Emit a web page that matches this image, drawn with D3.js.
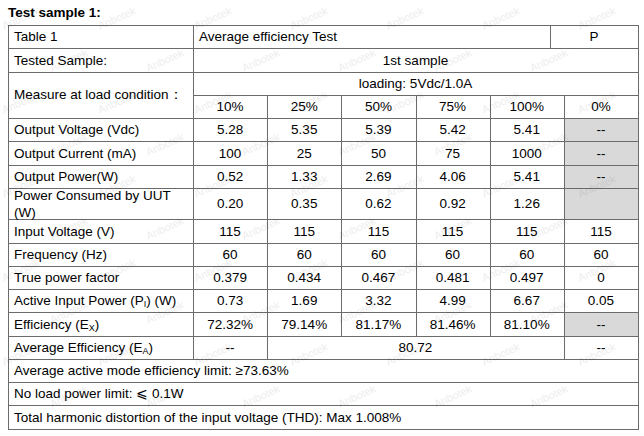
<!DOCTYPE html>
<html>
<head>
<meta charset="utf-8">
<script src="https://d3js.org/d3.v7.min.js"></script>
<style>
  body { margin: 0; background: #fff; }
  text { font-family: Arial, "Liberation Sans", sans-serif; font-size: 13.5px; fill: #000; }
</style>
</head>
<body>
<svg id="viz"></svg>
<script>
var width = 644, height = 436;

// table data
var loads = ["10%", "25%", "50%", "75%", "100%", "0%"];
var outputVoltage = ["5.28", "5.35", "5.39", "5.42", "5.41", "--"];
var outputCurrent = ["100", "25", "50", "75", "1000", "--"];
var outputPower = ["0.52", "1.33", "2.69", "4.06", "5.41", "--"];
var powerConsumed = ["0.20", "0.35", "0.62", "0.92", "1.26", ""];
var inputVoltage = ["115", "115", "115", "115", "115", "115"];
var frequency = ["60", "60", "60", "60", "60", "60"];
var powerFactor = ["0.379", "0.434", "0.467", "0.481", "0.497", "0"];
var activeInput = ["0.73", "1.69", "3.32", "4.99", "6.67", "0.05"];
var efficiency = ["72.32%", "79.14%", "81.17%", "81.46%", "81.10%", "--"];
var averageEfficiency = "80.72";
var footnotes = [
  "Average active mode efficiency limit: \u226573.63%",
  "No load power limit: \u2A7D 0.1W",
  "Total harmonic distortion of the input voltage (THD): Max 1.008%"
];

var dataRows = [
  {label: ["Output Voltage (Vdc)"], values: outputVoltage, shade: true},
  {label: ["Output Current (mA)"], values: outputCurrent, shade: true},
  {label: ["Output Power(W)"], values: outputPower, shade: true},
  {label: ["Power Consumed by UUT", "(W)"], values: powerConsumed, shade: true, tall: true},
  {label: ["Input Voltage (V)"], values: inputVoltage},
  {label: ["Frequency (Hz)"], values: frequency},
  {label: ["True power factor"], values: powerFactor},
  {label: ["Active Input Power (P", "I", ") (W)"], values: activeInput, sub: true},
  {label: ["Efficiency (E", "X", ")"], values: efficiency, shade: true, sub: true}
];

var tblLeft = 8, tblRight = 638, labelW = 185, tblTop = 25;
var rowH = 23.25, tallH = 31.5;
var lineColor = "#6b6b6b", shadeColor = "#d9d9d9";

var svg = d3.select("#viz").attr("width", width).attr("height", height);

var x = d3.scaleBand().domain(loads).range([tblLeft + labelW, tblRight]);

// row tops
var heights = [rowH, rowH, rowH, rowH];
dataRows.forEach(function(r) { heights.push(r.tall ? tallH : rowH); });
heights.push(rowH, rowH, rowH, rowH);
var ys = [tblTop];
heights.forEach(function(h, i) { ys.push(ys[i] + h); });

var g = svg.append("g");
var cells = g.append("g");
var texts = g.append("g");

function cell(x0, y0, w, h, fill) {
  var xa = Math.round(x0), xb = Math.round(x0 + w);
  var ya = Math.round(y0), yb = Math.round(y0 + h);
  cells.append("rect")
    .attr("x", xa + 0.5).attr("y", ya + 0.5)
    .attr("width", xb - xa).attr("height", yb - ya)
    .attr("fill", fill || "none")
    .attr("stroke", lineColor).attr("stroke-width", 1);
}
function label(str, tx, ty, anchor) {
  return texts.append("text").attr("x", tx).attr("y", ty).attr("dy", "0.35em")
    .attr("text-anchor", anchor || "start").text(str);
}
function mid(i) { return ys[i] + heights[i] / 2; }

// title
texts.append("text").attr("x", tblLeft).attr("y", 17)
  .style("font-weight", "bold").text("Test sample 1:");

// header rows
var dataX = tblLeft + labelW;
cell(tblLeft, ys[0], labelW, heights[0]);
cell(dataX, ys[0], 550 - dataX, heights[0]);
cell(550, ys[0], tblRight - 550, heights[0]);
label("Table 1", tblLeft + 6, mid(0));
label("Average efficiency Test", dataX + 6, mid(0));
label("P", (550 + tblRight) / 2, mid(0), "middle");

cell(tblLeft, ys[1], labelW, heights[1]);
cell(dataX, ys[1], tblRight - dataX, heights[1]);
label("Tested Sample:", tblLeft + 6, mid(1));
label("1st sample", (dataX + tblRight) / 2, mid(1), "middle");

cell(tblLeft, ys[2], labelW, heights[2] + heights[3]);
label("Measure at load condition\uFF1A", tblLeft + 6, ys[3]);
cell(dataX, ys[2], tblRight - dataX, heights[2]);
label("loading: 5Vdc/1.0A", (dataX + tblRight) / 2, mid(2), "middle");
loads.forEach(function(l) {
  cell(x(l), ys[3], x.bandwidth(), heights[3]);
  label(l, x(l) + x.bandwidth() / 2, mid(3), "middle");
});

// data rows
dataRows.forEach(function(r, k) {
  var i = k + 4;
  cell(tblLeft, ys[i], labelW, heights[i]);
  if (r.label.length === 2) {
    label(r.label[0], tblLeft + 6, mid(i) - 8);
    label(r.label[1], tblLeft + 6, mid(i) + 9);
  } else if (r.sub) {
    var t = label("", tblLeft + 6, mid(i));
    t.append("tspan").text(r.label[0]);
    t.append("tspan").attr("dy", 2).style("font-size", "9px").text(r.label[1]);
    t.append("tspan").attr("dy", -2).text(r.label[2]);
  } else {
    label(r.label[0], tblLeft + 6, mid(i));
  }
  loads.forEach(function(l, j) {
    var shaded = r.shade && j === loads.length - 1;
    cell(x(l), ys[i], x.bandwidth(), heights[i], shaded ? shadeColor : null);
    label(r.values[j], x(l) + x.bandwidth() / 2, mid(i), "middle");
  });
});

// average efficiency row
var ia = dataRows.length + 4;
cell(tblLeft, ys[ia], labelW, heights[ia]);
var ta = label("", tblLeft + 6, mid(ia));
ta.append("tspan").text("Average Efficiency (E");
ta.append("tspan").attr("dy", 2).style("font-size", "9px").text("A");
ta.append("tspan").attr("dy", -2).text(")");
cell(x(loads[0]), ys[ia], x.bandwidth(), heights[ia]);
label("--", x(loads[0]) + x.bandwidth() / 2, mid(ia), "middle");
cell(x(loads[1]), ys[ia], x(loads[5]) - x(loads[1]), heights[ia]);
label(averageEfficiency, (x(loads[1]) + x(loads[5])) / 2, mid(ia), "middle");
cell(x(loads[5]), ys[ia], x.bandwidth(), heights[ia]);
label("--", x(loads[5]) + x.bandwidth() / 2, mid(ia), "middle");

// footnote rows
footnotes.forEach(function(f, k) {
  var i = ia + 1 + k;
  cell(tblLeft, ys[i], tblRight - tblLeft, heights[i]);
  label(f, tblLeft + 6, mid(i));
});

// watermark, kept inside the page
var wm = svg.append("g").attr("pointer-events", "none");
for (var wy = 30; wy < height - 4; wy += 42) {
  for (var wx = 4; wx < width - 50; wx += 96) {
    var ox = ((wy - 30) / 42) % 2 ? 48 : 0;
    if (wx + ox > width - 50) continue;
    wm.append("text")
      .attr("transform", "translate(" + (wx + ox) + "," + wy + ") rotate(-24)")
      .style("font-size", "11px").style("fill", "#000").style("opacity", 0.07)
      .text("Anbotek");
  }
}
</script>
</body>
</html>
